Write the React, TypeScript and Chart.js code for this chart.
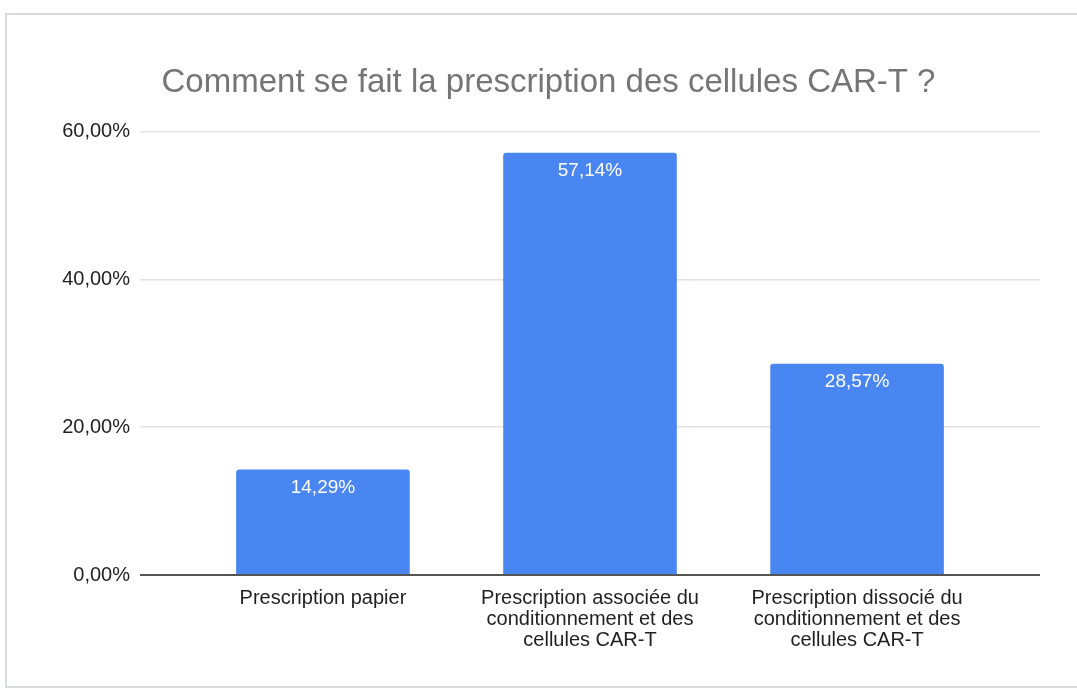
import React, { useEffect, useRef } from "react";
import { Chart, registerables } from "chart.js";

Chart.register(...registerables);

const TITLE = "Comment se fait la prescription des cellules CAR-T ?";
const categories: string[][] = [
  ["Prescription papier"],
  ["Prescription associée du", "conditionnement et des", "cellules CAR-T"],
  ["Prescription dissocié du", "conditionnement et des", "cellules CAR-T"],
];
const values: number[] = [14.29, 57.14, 28.57];
const yTicks: number[] = [0, 20, 40, 60];

const FONT = "'Liberation Sans', Arial, sans-serif";
const fmt = (v: number) => v.toFixed(2).replace(".", ",") + "%";

const valueLabels = {
  id: "valueLabels",
  afterDatasetsDraw(chart: any) {
    const ctx = chart.ctx;
    const meta = chart.getDatasetMeta(0);
    ctx.save();
    ctx.fillStyle = "#ffffff";
    ctx.font = `19px ${FONT}`;
    ctx.textAlign = "center";
    ctx.textBaseline = "middle";
    meta.data.forEach((bar: any, i: number) => {
      ctx.fillText(fmt(values[i]), bar.x, bar.y + 18);
    });
    ctx.restore();
  },
};

export default function App() {
  const ref = useRef<HTMLCanvasElement | null>(null);
  useEffect(() => {
    if (!ref.current) return;
    const chart = new Chart(ref.current, {
      type: "bar",
      data: {
        datasets: [
          {
            data: values.map((v, i) => ({ x: i, y: v })),
            backgroundColor: "#4a86f2",
            borderRadius: { topLeft: 3, topRight: 3, bottomLeft: 0, bottomRight: 0 },
            borderSkipped: "bottom",
            barPercentage: 0.65,
            categoryPercentage: 1,
          },
        ],
      },
      options: {
        animation: false,
        responsive: false,
        maintainAspectRatio: false,
        layout: { padding: { left: 57, right: 37, top: 63, bottom: 35 } },
        plugins: {
          legend: { display: false },
          tooltip: { enabled: false },
          title: {
            display: true,
            text: TITLE,
            color: "#757575",
            font: { family: FONT, size: 33, weight: "normal", lineHeight: 1.2 },
            padding: { top: 0, bottom: 29 },
          },
        },
        scales: {
          x: {
            type: "linear",
            offset: false,
            min: -0.685,
            max: 2.685,
            grid: { display: false, offset: false },
            border: { display: false },
            afterBuildTicks: (s: any) => {
              s.ticks = categories.map((_, i) => ({ value: i }));
            },
            ticks: {
              autoSkip: false,
              maxRotation: 0,
              minRotation: 0,
              padding: 5,
              color: "#1f1f1f",
              font: { family: FONT, size: 20, lineHeight: 1.05 },
              callback: (v: any) => categories[v as number] ?? "",
            },
          },
          y: {
            min: 0,
            max: 60,
            afterBuildTicks: (s: any) => {
              s.ticks = yTicks.map((v) => ({ value: v }));
            },
            afterFit: (s: any) => {
              s.width = 83;
            },
            border: { display: false },
            grid: {
              drawTicks: false,
              color: (c: any) => (c.tick && c.tick.value === 0 ? "#555555" : "#e2e2e2"),
              lineWidth: (c: any) => (c.tick && c.tick.value === 0 ? 2 : 1.5),
            },
            ticks: {
              padding: 10,
              color: "#1f1f1f",
              font: { family: FONT, size: 20 },
              callback: (v: any) => fmt(Number(v)),
            },
          },
        },
      },
      plugins: [valueLabels],
    });
    return () => chart.destroy();
  }, []);

  return (
    <div
      style={{
        position: "fixed",
        left: 0,
        top: 0,
        width: 1077,
        height: 691,
        background: "#ffffff",
        overflow: "hidden",
      }}
    >
      <div
        style={{
          position: "absolute",
          left: 5,
          top: 13,
          width: 1080,
          height: 675,
          border: "2px solid #d9dcdc",
          boxSizing: "border-box",
        }}
      />
      <canvas
        ref={ref}
        width={1077}
        height={691}
        style={{ position: "absolute", left: 0, top: 0, width: 1077, height: 691 }}
      />
    </div>
  );
}
